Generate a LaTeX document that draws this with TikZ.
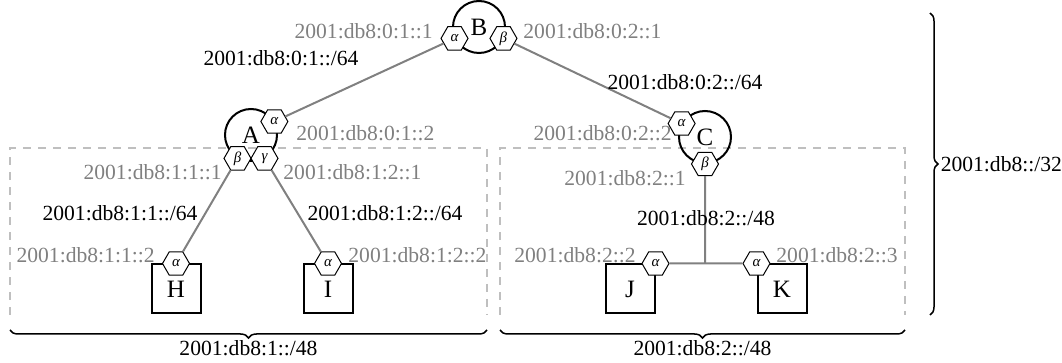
\documentclass[tikz,border=0pt]{standalone}
\usepackage{fontspec}
\setmainfont{Liberation Serif}
\usetikzlibrary{shapes.geometric,decorations.pathreplacing,calc}
\newcommand\lblsize{\fontsize{10.8}{13}\selectfont}
\newcommand\namesize{\fontsize{12.5}{14}\selectfont}
\begin{document}
\begin{tikzpicture}[x=0.5pt,y=-0.5pt,
  router/.style={circle,draw,line width=1pt,minimum size=26pt,inner sep=0pt,font=\namesize},
  host/.style={rectangle,draw,line width=1pt,minimum size=24.5pt,inner sep=0pt,font=\namesize},
  iface/.style={regular polygon,regular polygon sides=6,draw,fill=white,line width=0.5pt,
    minimum size=13.5pt,inner sep=0pt,font=\fontsize{7.5}{8}\selectfont\itshape},
  addr/.style={text=gray,font=\lblsize,inner sep=0pt},
  net/.style={text=black,font=\lblsize,inner sep=0pt},
  link/.style={draw=gray,line width=1pt},
  zone/.style={draw=black!25,line width=0.75pt,dash pattern=on 4pt off 3.5pt},
  span/.style={draw,line width=0.75pt,decorate,decoration={brace,amplitude=4pt}},
]
\useasboundingbox (0,0) rectangle (1062,363);

% subnet zones (open at the bottom)
\draw[zone] (10,315) -- (10,148) -- (487,148) -- (487,315);
\draw[zone] (500,315) -- (500,148) -- (905,148) -- (905,315);

% routers
\node[router] (B) at (479,27) {B};
\node[router] (A) at (251,135) {A};
\node[router] (C) at (705,137) {C};

% hosts
\node[host] (H) at (176,289) {H};
\node[host] (I) at (328,289) {I};
\node[host] (J) at (630,289) {J};
\node[host] (K) at (782,289) {K};

% interfaces
\node[iface] (Ba) at (B.205) {α};
\node[iface] (Bb) at (B.335) {β};
\node[iface] (Aa) at (A.30) {α};
\node[iface] (Ab) at (A.240) {β};
\node[iface] (Ag) at (A.300) {γ};
\node[iface] (Ca) at (C.150) {α};
\node[iface] (Cb) at (C.270) {β};
\node[iface] (Ha) at (H.north) {α};
\node[iface] (Ia) at (I.north) {α};
\node[iface] (Ja) at (J.north east) {α};
\node[iface] (Ka) at (K.north west) {α};

% links
\draw[link] (Ba) -- (Aa);
\draw[link] (Bb) -- (Ca);
\draw[link] (Ab) -- (Ha);
\draw[link] (Ag) -- (Ia);
\coordinate (jn) at (Cb |- Ja);
\draw[link] (Cb) -- (jn);
\draw[link] (Ja) -- (Ka);

% link prefixes
\node[net] at (281,58) {2001:db8:0:1::/64};
\node[net] at (685,82) {2001:db8:0:2::/64};
\node[net] at (120,213) {2001:db8:1:1::/64};
\node[net] at (385,213) {2001:db8:1:2::/64};
\node[net] at (706,218) {2001:db8:2::/48};

% interface addresses
\node[addr,anchor=east] at (433,31) {2001:db8:0:1::1};
\node[addr,anchor=west] at (523,31) {2001:db8:0:2::1};
\node[addr,anchor=west] at (296,133) {2001:db8:0:1::2};
\node[addr,anchor=east] at (222,172) {2001:db8:1:1::1};
\node[addr,anchor=west] at (283,172) {2001:db8:1:2::1};
\node[addr,anchor=east] at (672,133) {2001:db8:0:2::2};
\node[addr,anchor=east] at (686,178) {2001:db8:2::1};
\node[addr,anchor=east] at (155,255) {2001:db8:1:1::2};
\node[addr,anchor=west] at (348,255) {2001:db8:1:2::2};
\node[addr,anchor=east] at (636,255) {2001:db8:2::2};
\node[addr,anchor=west] at (776,255) {2001:db8:2::3};

% aggregate prefixes
\draw[span] (487,330) -- (10,330) node[midway,below=5pt,net] {2001:db8:1::/48};
\draw[span] (905,330) -- (500,330) node[midway,below=5pt,net] {2001:db8:2::/48};
\draw[span] (930,13) -- (930,315) node[midway,right=5pt,net] {2001:db8::/32};
\end{tikzpicture}
\end{document}
